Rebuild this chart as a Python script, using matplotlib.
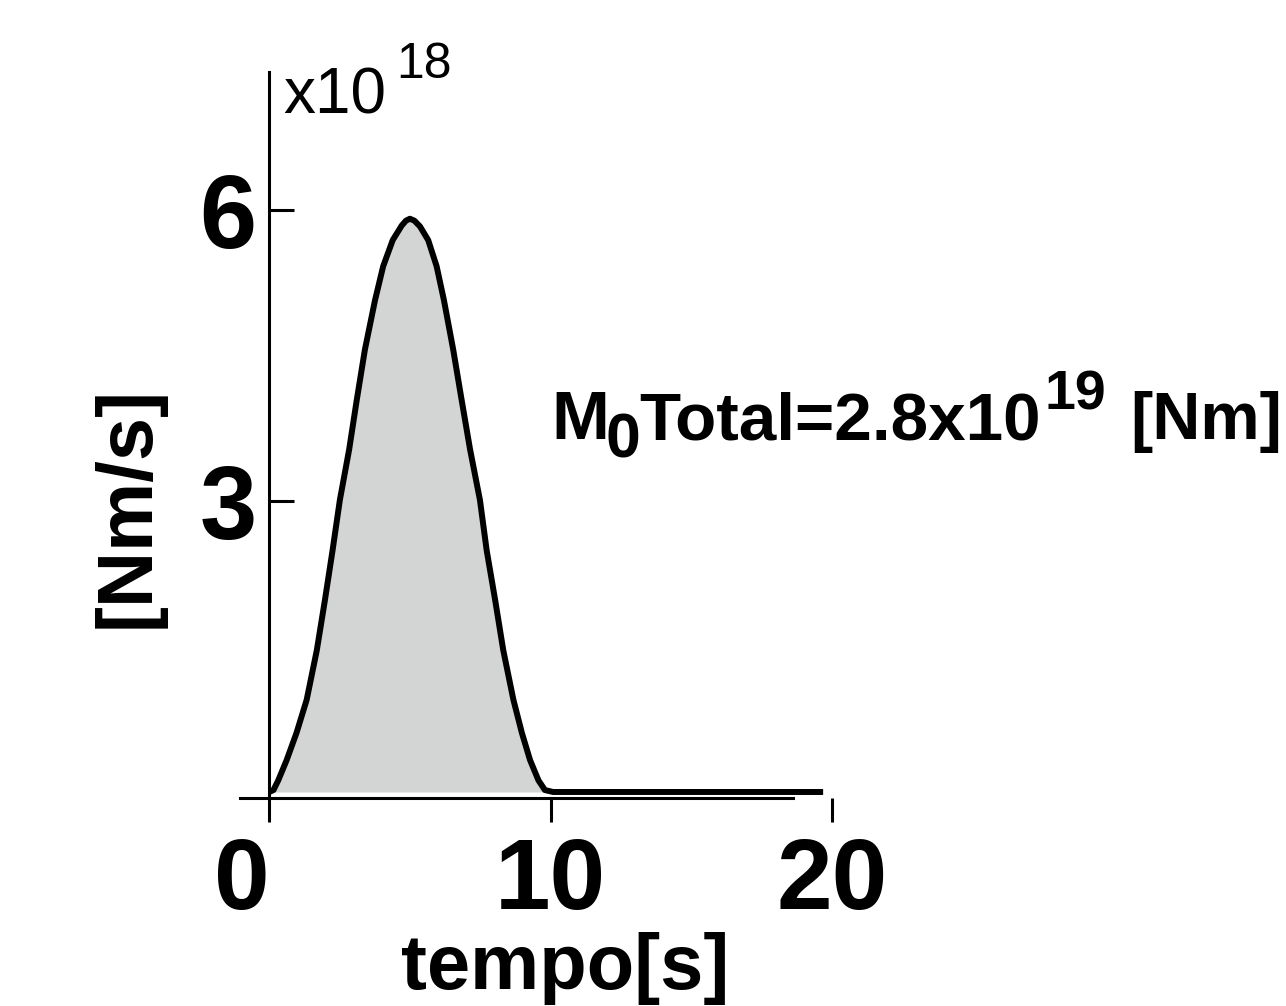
import matplotlib
matplotlib.use('Agg')
import matplotlib.pyplot as plt

plt.rcParams['font.family'] = ['Liberation Sans', 'DejaVu Sans']

# ---- data, moment rate in units of 1e18 Nm/s ----
time_s = [0.0, 0.15, 0.32, 0.62, 0.97, 1.33, 1.69, 1.98, 2.25, 2.51, 2.84,
          3.11, 3.40, 3.76, 4.05, 4.39, 4.71, 4.86, 5.00, 5.16, 5.36, 5.65,
          5.95, 6.21, 6.54, 6.84, 7.14, 7.49, 7.73, 8.03, 8.32, 8.68, 8.98,
          9.27, 9.57, 9.80, 10.09, 19.69]
rate = [0.0, 0.02, 0.12, 0.33, 0.61, 0.95, 1.46, 1.98, 2.49, 3.01, 3.53,
        4.04, 4.56, 5.07, 5.42, 5.69, 5.84, 5.89, 5.91, 5.89, 5.83, 5.69,
        5.42, 5.07, 4.56, 4.04, 3.53, 3.01, 2.49, 1.98, 1.46, 0.95, 0.61,
        0.33, 0.12, 0.02, 0.0, 0.0]
x_ticks = [0, 10, 20]
x_tick_labels = ['0', '10', '20']
y_ticks = [3, 6]
y_tick_labels = ['3', '6']
x_label = 'tempo[s]'
y_label = '[Nm/s]'

W, H = 1286, 1006
fig = plt.figure(figsize=(W / 100, H / 100), dpi=100)


def fx(px):
    return px / W


def fy(py):
    return 1 - py / H


ax = fig.add_axes([fx(240), fy(798), (840 - 240) / W, (798 - 71.7) / H])
ax.fill_between(time_s, rate, 0, color='#d3d5d4', lw=0)
ax.plot(time_s, rate, color='black', lw=4.3, solid_joinstyle='round',
        solid_capstyle='butt')
ax.set_xlim(-1.04, 20.29)
ax.set_ylim(-0.062, 7.426)

for s in ['top', 'right']:
    ax.spines[s].set_visible(False)
ax.spines['left'].set_position(('data', 0))
ax.spines['bottom'].set_bounds(-1.04, 18.62)
for s in ['left', 'bottom']:
    ax.spines[s].set_linewidth(2.2)

ax.set_xticks(x_ticks, x_tick_labels)
ax.set_yticks(y_ticks, y_tick_labels)
ax.tick_params(axis='x', direction='out', length=17, width=2.2, pad=10,
               labelsize=72)
ax.tick_params(axis='y', direction='in', length=18, width=2.2, pad=9,
               labelsize=74)
for lab in ax.get_xticklabels() + ax.get_yticklabels():
    lab.set_fontweight('bold')
ax.get_xticklabels()[0].set_ha('right')

ax.set_xlabel(x_label, fontsize=56, fontweight='bold')
ax.xaxis.set_label_coords((565 - 240) / 600, (798 - 932) / 726.3)
ax.set_ylabel(y_label, fontsize=56, fontweight='bold')
ax.yaxis.set_label_coords((165 - 240) / 600, (798 - 507) / 726.3)

# exponent label at the top of the y axis
fig.text(fx(283), fy(113), 'x10', fontsize=46, ha='left', va='baseline')
fig.text(fx(396), fy(78), '18', fontsize=36, ha='left', va='baseline')

# total moment annotation
fig.text(fx(551), fy(439), 'M', fontsize=50, fontweight='bold',
         ha='left', va='baseline')
fig.text(fx(605), fy(457), '0', fontsize=45, fontweight='bold',
         ha='left', va='baseline')
fig.text(fx(639), fy(439), 'Total=2.8x10', fontsize=48.5, fontweight='bold',
         ha='left', va='baseline')
fig.text(fx(1045), fy(410), '19', fontsize=40, fontweight='bold',
         ha='left', va='baseline')
fig.text(fx(1130), fy(439), '[Nm]', fontsize=48, fontweight='bold',
         ha='left', va='baseline')

fig.savefig('out.png', dpi=100)
